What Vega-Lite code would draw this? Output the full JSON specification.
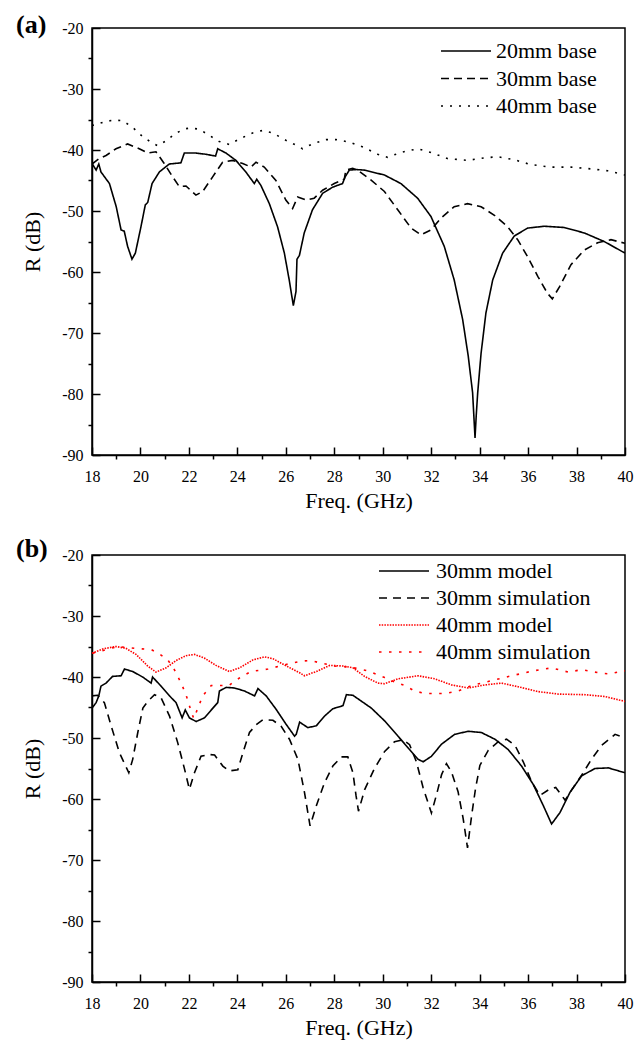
{
"$schema": "https://vega.github.io/schema/vega-lite/v6.json",
"autosize": {"type": "pad"},
"padding": {"left": 15, "top": 10, "right": 10, "bottom": 10},
"background": "white",
"bounds": "flush",
"spacing": 100,
"datasets": {
"a": [
{"s":"20mm base","f":18,"r":-42.2},{"s":"20mm base","f":18.17,"r":-43.3},{"s":"20mm base","f":18.28,"r":-42.3},{"s":"20mm base","f":18.37,"r":-43.6},{"s":"20mm base","f":18.72,"r":-45.5},{"s":"20mm base","f":19.0,"r":-49.3},{"s":"20mm base","f":19.2,"r":-53.1},{"s":"20mm base","f":19.33,"r":-53.3},{"s":"20mm base","f":19.47,"r":-55.8},{"s":"20mm base","f":19.65,"r":-57.9},{"s":"20mm base","f":19.79,"r":-56.9},{"s":"20mm base","f":20.02,"r":-52.6},{"s":"20mm base","f":20.2,"r":-49.0},{"s":"20mm base","f":20.3,"r":-48.6},{"s":"20mm base","f":20.48,"r":-45.5},{"s":"20mm base","f":20.78,"r":-43.6},{"s":"20mm base","f":21.19,"r":-42.3},{"s":"20mm base","f":21.67,"r":-42.1},{"s":"20mm base","f":21.81,"r":-40.5},{"s":"20mm base","f":22.29,"r":-40.5},{"s":"20mm base","f":22.7,"r":-40.7},{"s":"20mm base","f":23.1,"r":-41.0},{"s":"20mm base","f":23.19,"r":-39.8},{"s":"20mm base","f":23.53,"r":-40.5},{"s":"20mm base","f":23.94,"r":-41.7},{"s":"20mm base","f":24.35,"r":-43.6},{"s":"20mm base","f":24.7,"r":-45.5},{"s":"20mm base","f":24.8,"r":-44.8},{"s":"20mm base","f":24.97,"r":-45.8},{"s":"20mm base","f":25.32,"r":-48.8},{"s":"20mm base","f":25.66,"r":-52.6},{"s":"20mm base","f":25.94,"r":-56.9},{"s":"20mm base","f":26.14,"r":-61.3},{"s":"20mm base","f":26.31,"r":-65.5},{"s":"20mm base","f":26.42,"r":-63.2},{"s":"20mm base","f":26.46,"r":-57.9},{"s":"20mm base","f":26.56,"r":-57.3},{"s":"20mm base","f":26.76,"r":-53.6},{"s":"20mm base","f":27.1,"r":-49.8},{"s":"20mm base","f":27.52,"r":-47.1},{"s":"20mm base","f":27.93,"r":-46.1},{"s":"20mm base","f":28.34,"r":-45.5},{"s":"20mm base","f":28.45,"r":-44.4},{"s":"20mm base","f":28.62,"r":-43.3},{"s":"20mm base","f":28.9,"r":-43.2},{"s":"20mm base","f":29.24,"r":-43.3},{"s":"20mm base","f":30.07,"r":-44.1},{"s":"20mm base","f":30.75,"r":-45.5},{"s":"20mm base","f":31.44,"r":-47.9},{"s":"20mm base","f":31.99,"r":-50.9},{"s":"20mm base","f":32.54,"r":-55.8},{"s":"20mm base","f":32.95,"r":-61.3},{"s":"20mm base","f":33.3,"r":-67.8},{"s":"20mm base","f":33.53,"r":-73.8},{"s":"20mm base","f":33.71,"r":-79.8},{"s":"20mm base","f":33.76,"r":-83.5},{"s":"20mm base","f":33.81,"r":-87.2},{"s":"20mm base","f":33.86,"r":-83.5},{"s":"20mm base","f":33.92,"r":-79.8},{"s":"20mm base","f":34.06,"r":-73.3},{"s":"20mm base","f":34.26,"r":-66.7},{"s":"20mm base","f":34.54,"r":-61.3},{"s":"20mm base","f":34.95,"r":-56.9},{"s":"20mm base","f":35.43,"r":-54.1},{"s":"20mm base","f":35.98,"r":-52.8},{"s":"20mm base","f":36.67,"r":-52.5},{"s":"20mm base","f":37.49,"r":-52.7},{"s":"20mm base","f":38.32,"r":-53.6},{"s":"20mm base","f":39.14,"r":-55.0},{"s":"20mm base","f":40.0,"r":-56.9},
{"s":"30mm base","f":18,"r":-42.3},{"s":"30mm base","f":18.3,"r":-41.4},{"s":"30mm base","f":18.58,"r":-40.9},{"s":"30mm base","f":18.99,"r":-39.8},{"s":"30mm base","f":19.47,"r":-39.0},{"s":"30mm base","f":19.95,"r":-39.8},{"s":"30mm base","f":20.3,"r":-40.5},{"s":"30mm base","f":20.64,"r":-40.3},{"s":"30mm base","f":20.98,"r":-42.2},{"s":"30mm base","f":21.33,"r":-44.4},{"s":"30mm base","f":21.6,"r":-46.0},{"s":"30mm base","f":21.88,"r":-45.9},{"s":"30mm base","f":22.29,"r":-47.4},{"s":"30mm base","f":22.57,"r":-46.8},{"s":"30mm base","f":22.98,"r":-44.4},{"s":"30mm base","f":23.39,"r":-42.0},{"s":"30mm base","f":23.8,"r":-41.7},{"s":"30mm base","f":24.22,"r":-42.2},{"s":"30mm base","f":24.56,"r":-42.8},{"s":"30mm base","f":24.77,"r":-42.0},{"s":"30mm base","f":25.11,"r":-42.8},{"s":"30mm base","f":25.59,"r":-45.0},{"s":"30mm base","f":26.0,"r":-48.2},{"s":"30mm base","f":26.28,"r":-49.6},{"s":"30mm base","f":26.49,"r":-47.7},{"s":"30mm base","f":26.83,"r":-48.2},{"s":"30mm base","f":27.17,"r":-47.9},{"s":"30mm base","f":27.52,"r":-46.6},{"s":"30mm base","f":28.0,"r":-45.5},{"s":"30mm base","f":28.41,"r":-44.8},{"s":"30mm base","f":28.48,"r":-43.3},{"s":"30mm base","f":28.76,"r":-43.0},{"s":"30mm base","f":28.96,"r":-43.3},{"s":"30mm base","f":29.51,"r":-44.9},{"s":"30mm base","f":30.07,"r":-46.8},{"s":"30mm base","f":30.62,"r":-49.8},{"s":"30mm base","f":31.17,"r":-52.8},{"s":"30mm base","f":31.58,"r":-53.9},{"s":"30mm base","f":31.99,"r":-53.1},{"s":"30mm base","f":32.4,"r":-51.2},{"s":"30mm base","f":32.95,"r":-49.3},{"s":"30mm base","f":33.5,"r":-48.8},{"s":"30mm base","f":34.06,"r":-49.3},{"s":"30mm base","f":34.61,"r":-50.7},{"s":"30mm base","f":35.16,"r":-52.6},{"s":"30mm base","f":35.57,"r":-54.7},{"s":"30mm base","f":35.98,"r":-57.5},{"s":"30mm base","f":36.4,"r":-60.7},{"s":"30mm base","f":36.8,"r":-63.5},{"s":"30mm base","f":37.0,"r":-64.4},{"s":"30mm base","f":37.3,"r":-62.4},{"s":"30mm base","f":37.77,"r":-58.8},{"s":"30mm base","f":38.32,"r":-56.4},{"s":"30mm base","f":38.87,"r":-55.2},{"s":"30mm base","f":39.42,"r":-54.7},{"s":"30mm base","f":40.0,"r":-55.3},
{"s":"40mm base","f":18,"r":-36.0},{"s":"40mm base","f":18.17,"r":-35.8},{"s":"40mm base","f":18.58,"r":-35.3},{"s":"40mm base","f":18.92,"r":-35.1},{"s":"40mm base","f":19.27,"r":-35.2},{"s":"40mm base","f":19.68,"r":-36.3},{"s":"40mm base","f":20.09,"r":-37.8},{"s":"40mm base","f":20.43,"r":-38.7},{"s":"40mm base","f":20.71,"r":-39.3},{"s":"40mm base","f":21.05,"r":-38.5},{"s":"40mm base","f":21.47,"r":-37.2},{"s":"40mm base","f":21.88,"r":-36.5},{"s":"40mm base","f":22.09,"r":-36.4},{"s":"40mm base","f":22.43,"r":-36.6},{"s":"40mm base","f":22.84,"r":-37.6},{"s":"40mm base","f":23.25,"r":-38.6},{"s":"40mm base","f":23.67,"r":-39.1},{"s":"40mm base","f":24.08,"r":-38.2},{"s":"40mm base","f":24.63,"r":-37.2},{"s":"40mm base","f":25.04,"r":-36.8},{"s":"40mm base","f":25.46,"r":-37.2},{"s":"40mm base","f":26.0,"r":-38.4},{"s":"40mm base","f":26.42,"r":-39.2},{"s":"40mm base","f":26.69,"r":-39.8},{"s":"40mm base","f":27.1,"r":-39.0},{"s":"40mm base","f":27.66,"r":-38.3},{"s":"40mm base","f":28.07,"r":-38.3},{"s":"40mm base","f":28.62,"r":-38.7},{"s":"40mm base","f":29.24,"r":-39.6},{"s":"40mm base","f":29.79,"r":-40.7},{"s":"40mm base","f":30.2,"r":-41.2},{"s":"40mm base","f":30.75,"r":-40.4},{"s":"40mm base","f":31.44,"r":-39.8},{"s":"40mm base","f":31.99,"r":-40.4},{"s":"40mm base","f":32.67,"r":-41.4},{"s":"40mm base","f":33.5,"r":-41.7},{"s":"40mm base","f":34.19,"r":-41.3},{"s":"40mm base","f":34.74,"r":-41.1},{"s":"40mm base","f":35.43,"r":-41.6},{"s":"40mm base","f":36.12,"r":-42.4},{"s":"40mm base","f":36.94,"r":-42.8},{"s":"40mm base","f":37.77,"r":-42.8},{"s":"40mm base","f":38.6,"r":-43.1},{"s":"40mm base","f":39.28,"r":-43.4},{"s":"40mm base","f":40.0,"r":-44.1}
],
"b": [
{"s":"30mm model","f":18,"r":-45.1},{"s":"30mm model","f":18.17,"r":-44.2},{"s":"30mm model","f":18.28,"r":-43.1},{"s":"30mm model","f":18.37,"r":-41.5},{"s":"30mm model","f":18.58,"r":-41.0},{"s":"30mm model","f":18.85,"r":-39.9},{"s":"30mm model","f":19.2,"r":-39.8},{"s":"30mm model","f":19.34,"r":-38.7},{"s":"30mm model","f":19.68,"r":-39.1},{"s":"30mm model","f":20.09,"r":-40.0},{"s":"30mm model","f":20.44,"r":-41.0},{"s":"30mm model","f":20.5,"r":-40.0},{"s":"30mm model","f":20.85,"r":-41.5},{"s":"30mm model","f":21.2,"r":-43.1},{"s":"30mm model","f":21.47,"r":-44.2},{"s":"30mm model","f":21.72,"r":-46.7},{"s":"30mm model","f":21.85,"r":-45.4},{"s":"30mm model","f":22.02,"r":-46.7},{"s":"30mm model","f":22.3,"r":-47.3},{"s":"30mm model","f":22.64,"r":-46.7},{"s":"30mm model","f":22.99,"r":-45.1},{"s":"30mm model","f":23.19,"r":-44.2},{"s":"30mm model","f":23.26,"r":-42.3},{"s":"30mm model","f":23.54,"r":-41.7},{"s":"30mm model","f":23.88,"r":-41.8},{"s":"30mm model","f":24.3,"r":-42.3},{"s":"30mm model","f":24.71,"r":-43.1},{"s":"30mm model","f":24.85,"r":-41.9},{"s":"30mm model","f":25.19,"r":-43.1},{"s":"30mm model","f":25.6,"r":-45.3},{"s":"30mm model","f":26.02,"r":-47.8},{"s":"30mm model","f":26.36,"r":-49.7},{"s":"30mm model","f":26.43,"r":-49.4},{"s":"30mm model","f":26.57,"r":-47.4},{"s":"30mm model","f":26.91,"r":-48.3},{"s":"30mm model","f":27.26,"r":-48.0},{"s":"30mm model","f":27.6,"r":-46.4},{"s":"30mm model","f":27.94,"r":-45.2},{"s":"30mm model","f":28.36,"r":-44.7},{"s":"30mm model","f":28.5,"r":-42.9},{"s":"30mm model","f":28.77,"r":-43.0},{"s":"30mm model","f":29.53,"r":-45.1},{"s":"30mm model","f":30.08,"r":-47.2},{"s":"30mm model","f":30.63,"r":-49.7},{"s":"30mm model","f":31.11,"r":-51.9},{"s":"30mm model","f":31.46,"r":-53.5},{"s":"30mm model","f":31.67,"r":-53.9},{"s":"30mm model","f":32.01,"r":-53.0},{"s":"30mm model","f":32.43,"r":-51.0},{"s":"30mm model","f":32.97,"r":-49.4},{"s":"30mm model","f":33.52,"r":-48.9},{"s":"30mm model","f":34.07,"r":-49.1},{"s":"30mm model","f":34.63,"r":-50.2},{"s":"30mm model","f":35.18,"r":-51.9},{"s":"30mm model","f":35.73,"r":-54.6},{"s":"30mm model","f":36.21,"r":-57.6},{"s":"30mm model","f":36.63,"r":-61.1},{"s":"30mm model","f":36.97,"r":-64.1},{"s":"30mm model","f":37.32,"r":-62.2},{"s":"30mm model","f":37.73,"r":-58.9},{"s":"30mm model","f":38.21,"r":-56.2},{"s":"30mm model","f":38.76,"r":-55.0},{"s":"30mm model","f":39.31,"r":-54.9},{"s":"30mm model","f":40.0,"r":-55.7},
{"s":"30mm simulation","f":18,"r":-43.1},{"s":"30mm simulation","f":18.23,"r":-43.0},{"s":"30mm simulation","f":18.51,"r":-44.2},{"s":"30mm simulation","f":18.79,"r":-48.0},{"s":"30mm simulation","f":19.13,"r":-52.4},{"s":"30mm simulation","f":19.52,"r":-55.7},{"s":"30mm simulation","f":19.68,"r":-53.5},{"s":"30mm simulation","f":19.89,"r":-49.1},{"s":"30mm simulation","f":20.1,"r":-45.1},{"s":"30mm simulation","f":20.3,"r":-44.0},{"s":"30mm simulation","f":20.58,"r":-42.9},{"s":"30mm simulation","f":20.85,"r":-43.4},{"s":"30mm simulation","f":21.2,"r":-46.4},{"s":"30mm simulation","f":21.54,"r":-50.8},{"s":"30mm simulation","f":21.82,"r":-55.1},{"s":"30mm simulation","f":22.02,"r":-58.4},{"s":"30mm simulation","f":22.23,"r":-55.7},{"s":"30mm simulation","f":22.5,"r":-53.0},{"s":"30mm simulation","f":22.85,"r":-52.7},{"s":"30mm simulation","f":23.06,"r":-52.8},{"s":"30mm simulation","f":23.4,"r":-54.6},{"s":"30mm simulation","f":23.67,"r":-55.4},{"s":"30mm simulation","f":24.02,"r":-55.2},{"s":"30mm simulation","f":24.23,"r":-52.4},{"s":"30mm simulation","f":24.5,"r":-49.1},{"s":"30mm simulation","f":24.78,"r":-47.8},{"s":"30mm simulation","f":25.05,"r":-47.0},{"s":"30mm simulation","f":25.47,"r":-47.1},{"s":"30mm simulation","f":25.81,"r":-48.1},{"s":"30mm simulation","f":26.15,"r":-50.2},{"s":"30mm simulation","f":26.5,"r":-53.5},{"s":"30mm simulation","f":26.77,"r":-58.9},{"s":"30mm simulation","f":27.0,"r":-64.4},{"s":"30mm simulation","f":27.26,"r":-61.1},{"s":"30mm simulation","f":27.6,"r":-57.3},{"s":"30mm simulation","f":27.94,"r":-54.6},{"s":"30mm simulation","f":28.29,"r":-53.1},{"s":"30mm simulation","f":28.56,"r":-53.1},{"s":"30mm simulation","f":28.77,"r":-55.7},{"s":"30mm simulation","f":28.9,"r":-59.5},{"s":"30mm simulation","f":29.0,"r":-62.0},{"s":"30mm simulation","f":29.25,"r":-58.5},{"s":"30mm simulation","f":29.66,"r":-55.0},{"s":"30mm simulation","f":30.08,"r":-52.2},{"s":"30mm simulation","f":30.49,"r":-50.6},{"s":"30mm simulation","f":30.84,"r":-50.3},{"s":"30mm simulation","f":31.11,"r":-51.1},{"s":"30mm simulation","f":31.39,"r":-53.9},{"s":"30mm simulation","f":31.67,"r":-58.2},{"s":"30mm simulation","f":32.01,"r":-62.3},{"s":"30mm simulation","f":32.22,"r":-59.3},{"s":"30mm simulation","f":32.43,"r":-56.0},{"s":"30mm simulation","f":32.63,"r":-54.2},{"s":"30mm simulation","f":32.84,"r":-55.6},{"s":"30mm simulation","f":33.11,"r":-58.8},{"s":"30mm simulation","f":33.32,"r":-63.2},{"s":"30mm simulation","f":33.5,"r":-68.0},{"s":"30mm simulation","f":33.67,"r":-62.7},{"s":"30mm simulation","f":33.83,"r":-58.3},{"s":"30mm simulation","f":34.01,"r":-54.5},{"s":"30mm simulation","f":34.36,"r":-52.0},{"s":"30mm simulation","f":34.77,"r":-50.6},{"s":"30mm simulation","f":35.11,"r":-50.2},{"s":"30mm simulation","f":35.46,"r":-51.2},{"s":"30mm simulation","f":35.8,"r":-53.9},{"s":"30mm simulation","f":36.15,"r":-57.2},{"s":"30mm simulation","f":36.49,"r":-59.4},{"s":"30mm simulation","f":36.84,"r":-58.5},{"s":"30mm simulation","f":37.14,"r":-58.1},{"s":"30mm simulation","f":37.53,"r":-60.2},{"s":"30mm simulation","f":37.8,"r":-58.5},{"s":"30mm simulation","f":38.21,"r":-56.1},{"s":"30mm simulation","f":38.63,"r":-53.4},{"s":"30mm simulation","f":39.04,"r":-51.2},{"s":"30mm simulation","f":39.59,"r":-49.4},{"s":"30mm simulation","f":40.0,"r":-50.0},
{"s":"40mm model","f":18,"r":-36.1},{"s":"40mm model","f":18.44,"r":-35.4},{"s":"40mm model","f":18.99,"r":-35.0},{"s":"40mm model","f":19.4,"r":-35.3},{"s":"40mm model","f":19.82,"r":-36.3},{"s":"40mm model","f":20.3,"r":-38.2},{"s":"40mm model","f":20.64,"r":-39.2},{"s":"40mm model","f":21.06,"r":-38.5},{"s":"40mm model","f":21.47,"r":-37.3},{"s":"40mm model","f":21.88,"r":-36.5},{"s":"40mm model","f":22.23,"r":-36.3},{"s":"40mm model","f":22.64,"r":-36.9},{"s":"40mm model","f":23.12,"r":-38.1},{"s":"40mm model","f":23.67,"r":-39.1},{"s":"40mm model","f":24.09,"r":-38.5},{"s":"40mm model","f":24.64,"r":-37.2},{"s":"40mm model","f":25.12,"r":-36.7},{"s":"40mm model","f":25.47,"r":-37.0},{"s":"40mm model","f":26.02,"r":-38.2},{"s":"40mm model","f":26.57,"r":-39.3},{"s":"40mm model","f":26.77,"r":-39.8},{"s":"40mm model","f":27.26,"r":-39.1},{"s":"40mm model","f":27.81,"r":-38.1},{"s":"40mm model","f":28.36,"r":-38.2},{"s":"40mm model","f":28.77,"r":-38.5},{"s":"40mm model","f":29.25,"r":-39.9},{"s":"40mm model","f":29.8,"r":-41.0},{"s":"40mm model","f":30.08,"r":-41.1},{"s":"40mm model","f":30.63,"r":-40.3},{"s":"40mm model","f":31.46,"r":-39.8},{"s":"40mm model","f":32.15,"r":-40.3},{"s":"40mm model","f":32.84,"r":-41.3},{"s":"40mm model","f":33.52,"r":-41.8},{"s":"40mm model","f":34.21,"r":-41.3},{"s":"40mm model","f":34.9,"r":-41.0},{"s":"40mm model","f":35.59,"r":-41.6},{"s":"40mm model","f":36.42,"r":-42.4},{"s":"40mm model","f":37.25,"r":-42.8},{"s":"40mm model","f":38.35,"r":-42.9},{"s":"40mm model","f":39.17,"r":-43.2},{"s":"40mm model","f":40.0,"r":-44.0},
{"s":"40mm simulation","f":18.03,"r":-36.1},{"s":"40mm simulation","f":18.5,"r":-35.6},{"s":"40mm simulation","f":19.06,"r":-35.0},{"s":"40mm simulation","f":19.75,"r":-35.3},{"s":"40mm simulation","f":20.44,"r":-35.5},{"s":"40mm simulation","f":20.78,"r":-36.2},{"s":"40mm simulation","f":21.13,"r":-37.2},{"s":"40mm simulation","f":21.4,"r":-38.8},{"s":"40mm simulation","f":21.68,"r":-41.0},{"s":"40mm simulation","f":21.88,"r":-42.9},{"s":"40mm simulation","f":22.09,"r":-45.6},{"s":"40mm simulation","f":22.2,"r":-46.8},{"s":"40mm simulation","f":22.37,"r":-45.1},{"s":"40mm simulation","f":22.57,"r":-43.1},{"s":"40mm simulation","f":22.92,"r":-41.4},{"s":"40mm simulation","f":23.26,"r":-41.4},{"s":"40mm simulation","f":23.65,"r":-41.4},{"s":"40mm simulation","f":23.88,"r":-40.7},{"s":"40mm simulation","f":24.23,"r":-39.8},{"s":"40mm simulation","f":24.57,"r":-39.1},{"s":"40mm simulation","f":25.26,"r":-38.7},{"s":"40mm simulation","f":25.95,"r":-38.0},{"s":"40mm simulation","f":26.64,"r":-37.4},{"s":"40mm simulation","f":27.01,"r":-37.3},{"s":"40mm simulation","f":27.33,"r":-37.6},{"s":"40mm simulation","f":28.01,"r":-38.2},{"s":"40mm simulation","f":28.7,"r":-38.4},{"s":"40mm simulation","f":29.39,"r":-39.0},{"s":"40mm simulation","f":30.08,"r":-40.1},{"s":"40mm simulation","f":30.49,"r":-40.8},{"s":"40mm simulation","f":30.91,"r":-41.4},{"s":"40mm simulation","f":31.32,"r":-42.3},{"s":"40mm simulation","f":31.74,"r":-42.7},{"s":"40mm simulation","f":32.57,"r":-42.7},{"s":"40mm simulation","f":33.11,"r":-42.3},{"s":"40mm simulation","f":33.67,"r":-41.4},{"s":"40mm simulation","f":34.49,"r":-40.6},{"s":"40mm simulation","f":35.32,"r":-39.8},{"s":"40mm simulation","f":36.21,"r":-39.0},{"s":"40mm simulation","f":36.97,"r":-38.5},{"s":"40mm simulation","f":37.66,"r":-39.2},{"s":"40mm simulation","f":38.21,"r":-38.8},{"s":"40mm simulation","f":39.04,"r":-39.4},{"s":"40mm simulation","f":39.39,"r":-39.5},{"s":"40mm simulation","f":39.87,"r":-39.0},{"s":"40mm simulation","f":40.0,"r":-39.0}
]
},
"resolve": {"scale": {"color": "independent", "strokeDash": "independent"}, "legend": {"color": "independent", "strokeDash": "independent"}},
"vconcat": [
{
"width": 533, "height": 427,
"title": {"text": "(a)", "anchor": "start", "frame": "group", "dx": -76, "dy": 38.5, "offset": 0, "baseline": "alphabetic", "font": "Liberation Serif", "fontSize": 26, "fontWeight": "bold", "color": "black"},
"data": {"name": "a"},
"mark": {"type": "line", "strokeWidth": 1.6, "clip": true},
"encoding": {
"x": {"field": "f", "type": "quantitative", "title": "Freq. (GHz)", "scale": {"domain": [18, 40], "nice": false, "zero": false}, "axis": {"values": [18,19,20,21,22,23,24,25,26,27,28,29,30,31,32,33,34,35,36,37,38,39,40], "labelExpr": "datum.value % 2 === 0 ? '' + datum.value : ''", "tickSize": {"condition": {"test": "datum.value % 2 === 0", "value": -8}, "value": 4}}},
"y": {"field": "r", "type": "quantitative", "title": "R (dB)", "scale": {"domain": [-90, -20], "nice": false, "zero": false}, "axis": {"values": [-90,-85,-80,-75,-70,-65,-60,-55,-50,-45,-40,-35,-30,-25,-20], "labelExpr": "datum.value % 10 === 0 ? '' + datum.value : ''", "tickSize": {"condition": {"test": "datum.value % 10 === 0", "value": -8}, "value": 4}}},
"color": {"field": "s", "type": "nominal", "title": null, "scale": {"domain": ["20mm base", "30mm base", "40mm base"], "range": ["black", "black", "black"]}, "legend": {"orient": "none", "legendX": 363, "legendY": 12, "symbolType": "M-2.5,0H2.5", "symbolSize": 400, "symbolStrokeWidth": 1.6, "labelFontSize": 22, "labelOffset": 19, "rowPadding": 5.5, "padding": 0}},
"strokeDash": {"field": "s", "type": "nominal", "scale": {"domain": ["20mm base", "30mm base", "40mm base"], "range": [[1, 0], [8, 5], [2, 7]]}, "legend": null}
}
},
{
"width": 533, "height": 427,
"title": {"text": "(b)", "anchor": "start", "frame": "group", "dx": -76, "dy": 35.7, "offset": 0, "baseline": "alphabetic", "font": "Liberation Serif", "fontSize": 26, "fontWeight": "bold", "color": "black"},
"data": {"name": "b"},
"mark": {"type": "line", "strokeWidth": 1.6, "clip": true},
"encoding": {
"x": {"field": "f", "type": "quantitative", "title": "Freq. (GHz)", "scale": {"domain": [18, 40], "nice": false, "zero": false}, "axis": {"values": [18,19,20,21,22,23,24,25,26,27,28,29,30,31,32,33,34,35,36,37,38,39,40], "labelExpr": "datum.value % 2 === 0 ? '' + datum.value : ''", "tickSize": {"condition": {"test": "datum.value % 2 === 0", "value": -8}, "value": 4}}},
"y": {"field": "r", "type": "quantitative", "title": "R (dB)", "scale": {"domain": [-90, -20], "nice": false, "zero": false}, "axis": {"values": [-90,-85,-80,-75,-70,-65,-60,-55,-50,-45,-40,-35,-30,-25,-20], "labelExpr": "datum.value % 10 === 0 ? '' + datum.value : ''", "tickSize": {"condition": {"test": "datum.value % 10 === 0", "value": -8}, "value": 4}}},
"color": {"field": "s", "type": "nominal", "title": null, "scale": {"domain": ["30mm model", "30mm simulation", "40mm model", "40mm simulation"], "range": ["black", "black", "#ff0000", "#ff0000"]}, "legend": {"orient": "none", "legendX": 301, "legendY": 5, "symbolType": "M-2.5,0H2.5", "symbolSize": 400, "symbolStrokeWidth": 1.6, "labelFontSize": 22, "labelOffset": 21, "rowPadding": 5, "padding": 0}},
"strokeDash": {"field": "s", "type": "nominal", "scale": {"domain": ["30mm model", "30mm simulation", "40mm model", "40mm simulation"], "range": [[1, 0], [8, 6], [1.5, 1.2], [2.5, 7.5]]}, "legend": null}
}
}
],
"config": {
"font": "Liberation Serif",
"view": {"stroke": "black", "strokeWidth": 1.5},
"axis": {"grid": false, "labelFont": "Liberation Serif", "labelFontSize": 16, "labelColor": "black", "labelFlush": false, "labelOverlap": false, "titleFont": "Liberation Serif", "titleFontSize": 22, "titleFontWeight": "normal", "titleColor": "black", "domainColor": "black", "domainWidth": 1.5, "tickColor": "black", "tickWidth": 1.5},
"axisX": {"labelPadding": 21, "titlePadding": -6},
"axisY": {"labelPadding": 17, "titlePadding": 17},
"legend": {"labelFont": "Liberation Serif", "labelColor": "black"}
}
}
